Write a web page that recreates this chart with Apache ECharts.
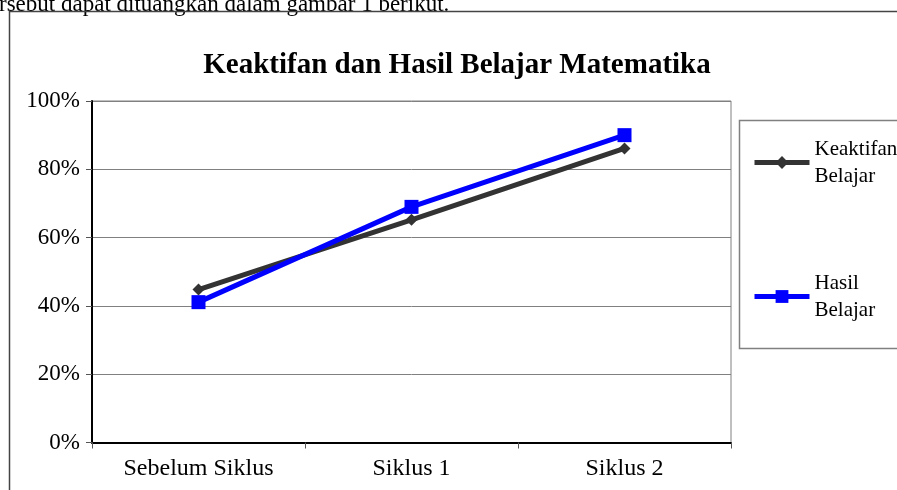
<!DOCTYPE html>
<html>
<head>
<meta charset="utf-8">
<script src="https://cdn.jsdelivr.net/npm/echarts@6/dist/echarts.min.js"></script>
<style>
html,body{margin:0;padding:0;background:#fff;}
#c{width:897px;height:490px;}
</style>
</head>
<body>
<div id="c"></div>
<script>
var categories = ['Sebelum Siklus', 'Siklus 1', 'Siklus 2'];
var keaktifan = [44.8, 65.2, 86.1];
var hasil = [41.1, 69.0, 90.0];
var seriesNames = ['Keaktifan\nBelajar', 'Hasil\nBelajar'];
var yTicks = [0, 20, 40, 60, 80, 100];

var FONT = '"Liberation Serif", "Times New Roman", serif';
var chart = echarts.init(document.getElementById('c'), null, {renderer: 'canvas'});
chart.setOption({
  animation: false,
  backgroundColor: '#ffffff',
  textStyle: {fontFamily: FONT},
  title: {
    text: 'Keaktifan dan Hasil Belajar Matematika',
    left: 452, top: 46, textAlign: 'center',
    textStyle: {fontFamily: FONT, fontSize: 29, fontWeight: 'bold', color: '#000'}
  },
  legend: {
    orient: 'vertical',
    left: 752, top: 122,
    padding: 0,
    itemGap: 53,
    itemWidth: 55, itemHeight: 16,
    data: [
      {name: seriesNames[0], lineStyle: {width: 5, color: '#333333'}},
      {name: seriesNames[1], lineStyle: {width: 5, color: '#0000FF'}}
    ],
    textStyle: {fontFamily: FONT, fontSize: 21, color: '#000', lineHeight: 27, padding: [27, 0, 0, 0]}
  },
  grid: {
    left: 92, right: 166, top: 101, bottom: 47.5,
    show: true, borderColor: '#808080', borderWidth: 1, backgroundColor: 'transparent'
  },
  xAxis: {
    type: 'category',
    data: categories,
    boundaryGap: true,
    axisLine: {lineStyle: {color: '#000', width: 2}},
    axisTick: {show: true, length: 6, lineStyle: {color: '#555', width: 1}},
    axisLabel: {fontFamily: FONT, fontSize: 24, color: '#000', margin: 14},
    splitLine: {show: false}
  },
  yAxis: {
    type: 'value',
    min: yTicks[0], max: yTicks[yTicks.length - 1], interval: 20,
    axisLine: {show: true, lineStyle: {color: '#000', width: 2}},
    axisTick: {show: true, length: 6, lineStyle: {color: '#555', width: 1}},
    axisLabel: {fontFamily: FONT, fontSize: 23, color: '#000', margin: 12, formatter: '{value}%'},
    splitLine: {show: true, lineStyle: {color: '#808080', width: 1}}
  },
  series: [
    {
      name: seriesNames[0], type: 'line', data: keaktifan,
      symbol: 'diamond', symbolSize: 12,
      lineStyle: {color: '#333333', width: 5},
      itemStyle: {color: '#333333'},
      z: 3
    },
    {
      name: seriesNames[1], type: 'line', data: hasil,
      symbol: 'rect', symbolSize: 14,
      lineStyle: {color: '#0000FF', width: 5},
      itemStyle: {color: '#0000FF'},
      z: 4
    }
  ],
  graphic: [
    {type: 'text', left: -1, top: -7, z: 10,
      style: {text: 'rsebut dapat dituangkan dalam gambar 1 berikut.', font: '23px ' + FONT, fill: '#000'}},
    {type: 'line', z: 10, shape: {x1: 9.5, y1: 11, x2: 9.5, y2: 490}, style: {stroke: '#444', lineWidth: 1.5}},
    {type: 'line', z: 10, shape: {x1: 9, y1: 11.5, x2: 897, y2: 11.5}, style: {stroke: '#444', lineWidth: 1.5}},
    {type: 'rect', z: 0, shape: {x: 739.5, y: 120.5, width: 200, height: 228}, style: {fill: 'none', stroke: '#808080', lineWidth: 1.5}}
  ]
});
</script>
</body>
</html>
